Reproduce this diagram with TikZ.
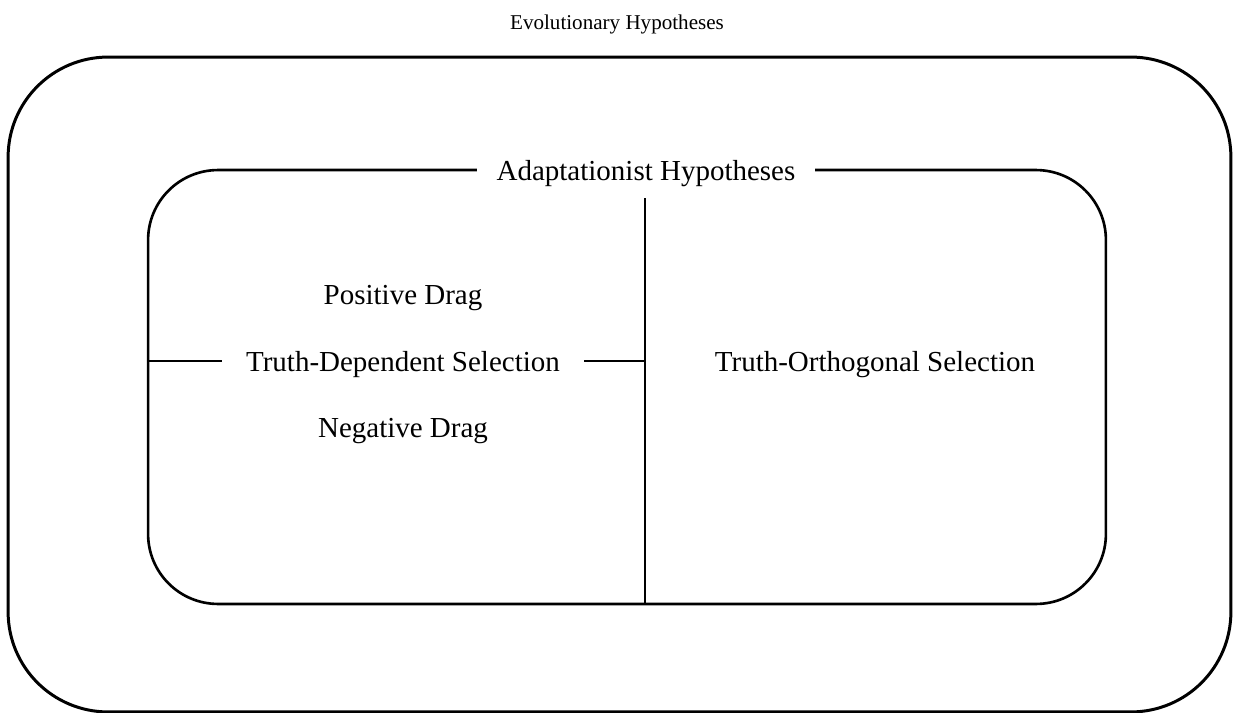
\documentclass[tikz,border=0pt]{standalone}
\usepackage{fontspec}
\setmainfont{Liberation Serif}
\usetikzlibrary{positioning}

\tikzset{
    frame/.style = {draw, line width = 1.7pt, rounded corners = 2cm},
    panel/.style = {draw, line width = 1.5pt, rounded corners = 1.4cm},
    label/.style = {font = \fontsize{16.5}{20}\selectfont, inner sep = 0pt,
        text height = 12.2pt, text depth = 0pt},
}

\begin{document}
\begin{tikzpicture}[x = 0.02cm, y = -0.02cm]
    \useasboundingbox (0, 0) rectangle (1234, 713);

    %% title
    \node[label, font = \fontsize{12}{14}\selectfont, text height = 8.6pt] (title) at (617, 22) {Evolutionary Hypotheses};

    %% boxes
    \node[frame, minimum width = 24.46cm, minimum height = 13.1cm] (outer) at (619.5, 384.5) {};
    \node[panel, minimum width = 19.16cm, minimum height = 8.68cm] (inner) at (627, 387) {};
    \node[label, fill = white, inner xsep = 0.4cm] (adapt) at (646, 170) {Adaptationist Hypotheses};

    %% split
    \coordinate (split) at (645, 198);
    \draw[line width = 1.2pt] (split) -- (split |- inner.south);

    %% left half
    \node[label, inner xsep = 0.48cm] (td) at (403, 361) {Truth-Dependent Selection};
    \node[label] (pos) at (403, 294) {Positive Drag};
    \node[label] (neg) at (403, 427) {Negative Drag};
    \draw[line width = 1.2pt] (inner.west |- td) -- (td.west);
    \draw[line width = 1.2pt] (td.east) -- (split |- td);

    %% right half
    \node[label] (to) at (875, 361) {Truth-Orthogonal Selection};
\end{tikzpicture}
\end{document}
